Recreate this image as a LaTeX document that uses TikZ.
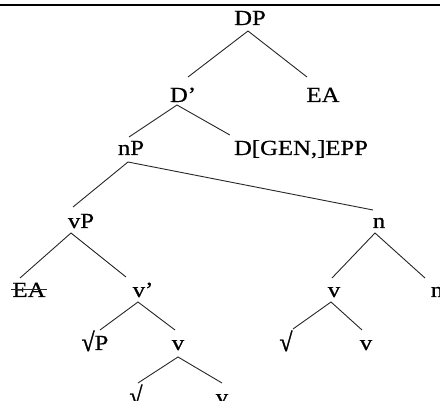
\documentclass[tikz,border=0pt]{standalone}
\usepackage{fontspec}
\setmainfont{Liberation Serif}
\newfontfamily\treefont{Liberation Serif}[FakeBold=0.6]
\newfontfamily\rootfont{Liberation Serif}[FakeBold=1.5]
\usetikzlibrary{calc}
\newcommand{\tl}[1]{\scalebox{1.15}[1]{#1}}
\newcommand{\rt}{\raisebox{-1pt}{\scalebox{1.1}[1.2]{\rootfont √}}}
\tikzset{
  lab/.style={anchor=base, inner sep=0pt, font=\treefont\fontsize{21.5}{24}\selectfont},
  edge/.style={draw=black!85, line width=0.9pt},
}
\begin{document}
\begin{tikzpicture}[x=1pt,y=-1pt]
\useasboundingbox (0,0) rectangle (440,401);
\draw[line width=1.3pt] (0,5) -- (440,5);
% nodes
\node[lab] (DP)   at (250,25)  {\tl{DP}};
\node[lab] (Dbar) at (183,102) {\tl{D’}};
\node[lab] (EA1)  at (323,102) {\tl{EA}};
\node[lab] (nP)   at (131,155) {\tl{nP}};
\node[lab] (DGEN) at (301,155) {\tl{D[GEN,]EPP}};
\node[lab] (vP)   at (81,228)  {\tl{vP}};
\node[lab] (n1)   at (379,228) {\tl{n}};
\node[lab] (EA2)  at (29,297)  {\tl{EA}};
\node[lab] (vbar) at (143,297) {\tl{v’}};
\node[lab] (v1)   at (334,297) {\tl{v}};
\node[lab] (n2)   at (437,297) {\tl{n}};
\node[lab] (sqP)  at (95,350)  {\rt\tl{P}};
\node[lab] (v2)   at (178,350) {\tl{v}};
\node[lab] (sq1)  at (286,350) {\rt};
\node[lab] (v3)   at (366,350) {\tl{v}};
\node[lab] (sqb)  at (136,404) {\rt};
\node[lab] (vb)   at (222,404) {\tl{v}};
% strike-through
\draw[edge] ($(EA2.base west)+(-1,-7.5)$) -- ($(EA2.base east)+(1,-7.5)$);
% edges
\draw[edge] ($(Dbar.base)+(5,-25)$) -- ($(DP.base)+(-2,6)$) -- ($(EA1.base)+(-16,-25)$);
\draw[edge] ($(nP.base)+(-2,-18)$) -- ($(Dbar.base)+(-6,3)$) -- ($(DGEN.base west)+(-4,-20)$);
\draw[edge] ($(vP.base)+(-8,-21)$) -- ($(nP.base)+(-3,7)$) -- ($(n1.base)+(-6,-18)$);
\draw[edge] ($(EA2.base)+(-9,-19)$) -- ($(vP.base)+(-10,5)$) -- ($(vbar.base)+(-17,-20)$);
\draw[edge] ($(v1.base)+(-2,-19)$) -- ($(n1.base)+(-4,5)$) -- ($(n2.base)+(-12,-19)$);
\draw[edge] ($(sqP.base)+(5,-20)$) -- ($(vbar.base)+(-5,5)$) -- ($(v2.base)+(-3,-20)$);
\draw[edge] ($(sq1.base)+(7,-21)$) -- ($(v1.base)+(-3,5)$) -- ($(v3.base)+(-4,-20)$);
\draw[edge] ($(sqb.base)+(2,-21)$) -- ($(v2.base)+(0,7)$) -- ($(vb.base)+(0,-21)$);
\end{tikzpicture}
\end{document}
